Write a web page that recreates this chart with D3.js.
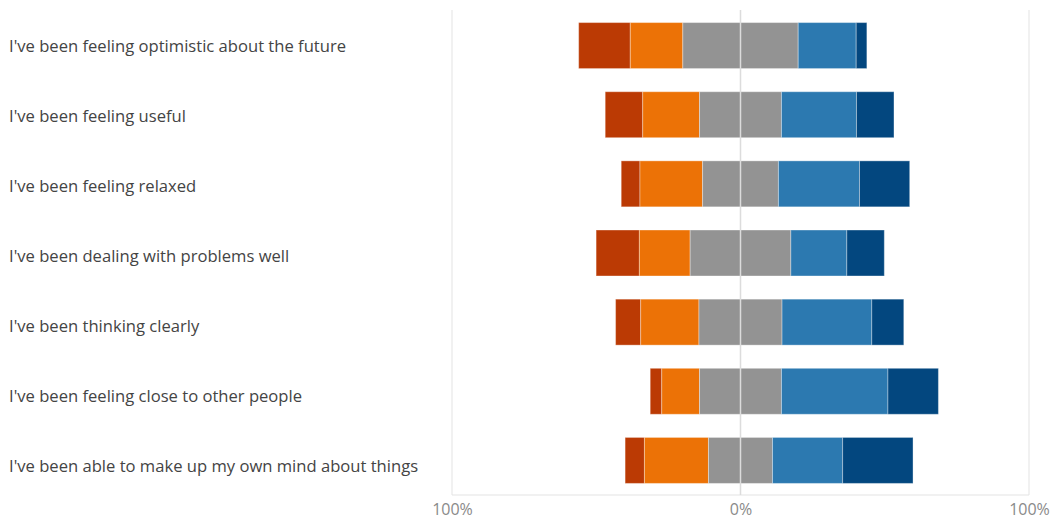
<!DOCTYPE html>
<html>
<head>
<meta charset="utf-8">
<script src="https://cdn.jsdelivr.net/npm/d3@7"></script>
<style>
  html, body { margin: 0; padding: 0; background: #fff; }
  svg { display: block; }
  text { font-family: "Open Sans", "Noto Sans", sans-serif; }
</style>
</head>
<body>
<svg id="chart" width="1055" height="519"></svg>
<script>
// Survey statements, top to bottom
const statements = [
  "I've been feeling optimistic about the future",
  "I've been feeling useful",
  "I've been feeling relaxed",
  "I've been dealing with problems well",
  "I've been thinking clearly",
  "I've been feeling close to other people",
  "I've been able to make up my own mind about things"
];

// Response shares (%) per statement
const noneOfTheTime = [17.9, 13.0, 6.5, 15.0, 8.7, 4.0, 6.7];
const rarely        = [18.2, 19.7, 21.7, 17.6, 20.2, 13.1, 22.2];
const someOfTheTime = [40.0, 28.4, 26.3, 34.9, 28.8, 28.4, 22.2];
const often         = [20.1, 26.0, 28.1, 19.4, 31.1, 36.9, 24.3];
const allOfTheTime  = [3.7, 13.0, 17.4, 13.0, 11.1, 17.5, 24.4];

const responses = ["None of the time", "Rarely", "Some of the time", "Often", "All of the time"];
const responseColors = ["#bb3a04", "#ec7206", "#939393", "#2c79b0", "#03477f"];

const tickValues = [-100, 0, 100];
const tickLabels = ["100%", "0%", "100%"];

const svg = d3.select("#chart");

const x = d3.scaleLinear().domain([-100, 100]).range([452, 1029]);
const y = d3.scaleBand().domain(statements).range([11, 495]).paddingInner(0.335).paddingOuter(0.1675);
// Label column uses its own slightly wider row pitch
const yLabel = d3.scalePoint().domain(statements).range([46, 466]);

const series = [noneOfTheTime, rarely, someOfTheTime, often, allOfTheTime];

// Build diverging segments: negative responses plus half of the neutral sit left of zero
const segments = [];
statements.forEach((s, i) => {
  const vals = series.map(a => a[i]);
  let start = -(vals[0] + vals[1] + vals[2] / 2);
  vals.forEach((v, k) => {
    segments.push({ statement: s, k, x0: start, x1: start + v });
    start += v;
  });
});

// Outer gridlines and baseline
const grid = svg.append("g");
grid.selectAll("line.v")
  .data([-100, 100])
  .join("line")
  .attr("x1", d => x(d)).attr("x2", d => x(d))
  .attr("y1", 10).attr("y2", 495)
  .attr("stroke", "#e3e3e3").attr("stroke-width", 1);
grid.append("line")
  .attr("x1", x(-100)).attr("x2", x(100))
  .attr("y1", 495).attr("y2", 495)
  .attr("stroke", "#e3e3e3").attr("stroke-width", 1);

// Bars
svg.append("g")
  .selectAll("rect")
  .data(segments)
  .join("rect")
  .attr("x", d => x(d.x0))
  .attr("width", d => x(d.x1) - x(d.x0))
  .attr("y", d => y(d.statement))
  .attr("height", y.bandwidth())
  .attr("fill", d => responseColors[d.k])
  .attr("stroke", "rgba(255,255,255,0.35)")
  .attr("stroke-width", 1);

// Zero line on top of the bars
svg.append("line")
  .attr("x1", x(0)).attr("x2", x(0))
  .attr("y1", 10).attr("y2", 495)
  .attr("stroke", "#dcdcdc").attr("stroke-width", 1.5);

// Category labels
svg.append("g")
  .selectAll("text")
  .data(statements)
  .join("text")
  .attr("x", 9)
  .attr("y", d => yLabel(d))
  .attr("dy", "0.38em")
  .attr("font-size", 16.6)
  .attr("fill", "#444")
  .text(d => d);

// Percentage axis
const axis = d3.axisBottom(x)
  .tickValues(tickValues)
  .tickSize(0)
  .tickPadding(0)
  .tickFormat((d, i) => tickLabels[i]);
const ax = svg.append("g").attr("transform", "translate(0,515)").call(axis);
ax.select(".domain").remove();
ax.selectAll("text")
  .attr("dy", null)
  .attr("font-size", 16)
  .attr("fill", "#8a8a8a")
  .attr("font-family", "\"Liberation Sans\", Arial, sans-serif");
</script>
</body>
</html>
